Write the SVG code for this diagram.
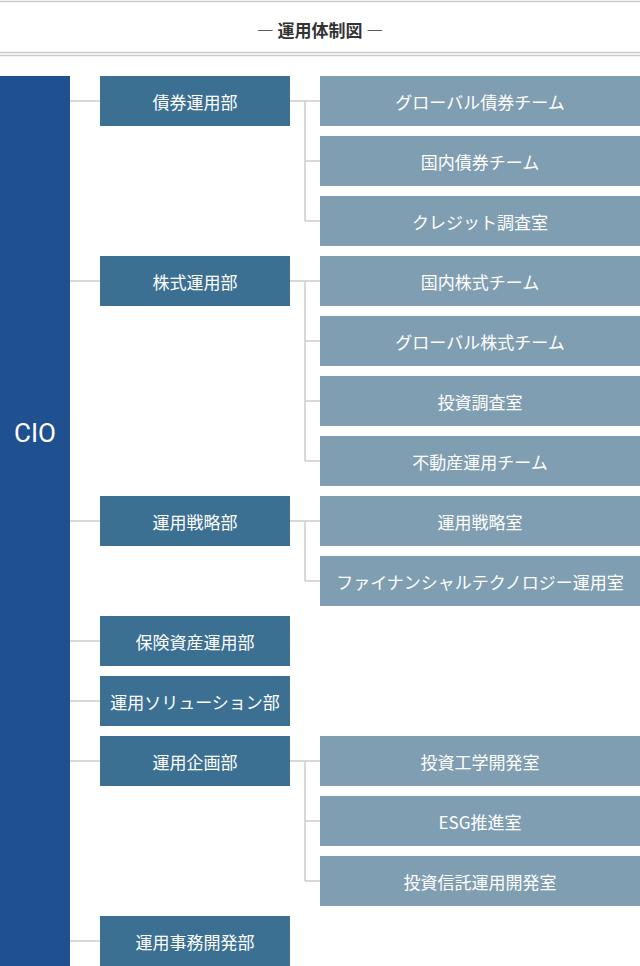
<svg xmlns="http://www.w3.org/2000/svg" width="640" height="966" viewBox="0 0 640 966">
<style>
text{font-family:"Noto Sans CJK JP","Noto Sans",sans-serif;fill:#fff;font-size:17px;text-anchor:middle;dominant-baseline:central}
.d{fill:#3b7092}.t{fill:#7f9eb1}.l{stroke:#cccccc;stroke-width:1.5;fill:none}
</style>
<rect width="640" height="966" fill="#fff"/>
<g id="header">
<line x1="0" y1="1.5" x2="640" y2="1.5" class="l"/><line x1="0" y1="52.5" x2="640" y2="52.5" class="l"/><line x1="0" y1="55.5" x2="640" y2="55.5" class="l"/>
<text x="320" y="29" style="fill:#333;font-weight:bold;font-size:17px">― 運用体制図 ―</text>
</g>
<g id="connectors" class="l">
<path d="M70 101H100M70 281H100M70 521H100M70 641H100M70 701H100M70 761H100M70 941H100"/>
<path d="M290 101H320M305 101V221M305 161H320M305 221H320"/>
<path d="M290 281H320M305 281V461M305 341H320M305 401H320M305 461H320"/>
<path d="M290 521H320M305 521V581M305 581H320"/>
<path d="M290 761H320M305 761V881M305 821H320M305 881H320"/>
</g>
<g id="cio"><rect x="0" y="76" width="70" height="890" fill="#1f5190"/><text x="35" y="433" style="font-size:26px;font-family:Roboto,sans-serif">CIO</text></g>
<g id="d1"><rect class="d" x="100" y="76" width="190" height="50"/><text x="195" y="101">債券運用部</text></g>
<g id="d2"><rect class="d" x="100" y="256" width="190" height="50"/><text x="195" y="281">株式運用部</text></g>
<g id="d3"><rect class="d" x="100" y="496" width="190" height="50"/><text x="195" y="521">運用戦略部</text></g>
<g id="d4"><rect class="d" x="100" y="616" width="190" height="50"/><text x="195" y="641">保険資産運用部</text></g>
<g id="d5"><rect class="d" x="100" y="676" width="190" height="50"/><text x="195" y="701">運用ソリューション部</text></g>
<g id="d6"><rect class="d" x="100" y="736" width="190" height="50"/><text x="195" y="761">運用企画部</text></g>
<g id="d7"><rect class="d" x="100" y="916" width="190" height="50"/><text x="195" y="941">運用事務開発部</text></g>
<g id="t1"><rect class="t" x="320" y="76" width="320" height="50"/><text x="480" y="101">グローバル債券チーム</text></g>
<g id="t2"><rect class="t" x="320" y="136" width="320" height="50"/><text x="480" y="161">国内債券チーム</text></g>
<g id="t3"><rect class="t" x="320" y="196" width="320" height="50"/><text x="480" y="221">クレジット調査室</text></g>
<g id="t4"><rect class="t" x="320" y="256" width="320" height="50"/><text x="480" y="281">国内株式チーム</text></g>
<g id="t5"><rect class="t" x="320" y="316" width="320" height="50"/><text x="480" y="341">グローバル株式チーム</text></g>
<g id="t6"><rect class="t" x="320" y="376" width="320" height="50"/><text x="480" y="401">投資調査室</text></g>
<g id="t7"><rect class="t" x="320" y="436" width="320" height="50"/><text x="480" y="461">不動産運用チーム</text></g>
<g id="t8"><rect class="t" x="320" y="496" width="320" height="50"/><text x="480" y="521">運用戦略室</text></g>
<g id="t9"><rect class="t" x="320" y="556" width="320" height="50"/><text x="480" y="581">ファイナンシャルテクノロジー運用室</text></g>
<g id="t10"><rect class="t" x="320" y="736" width="320" height="50"/><text x="480" y="761">投資工学開発室</text></g>
<g id="t11"><rect class="t" x="320" y="796" width="320" height="50"/><text x="480" y="821">ESG推進室</text></g>
<g id="t12"><rect class="t" x="320" y="856" width="320" height="50"/><text x="480" y="881">投資信託運用開発室</text></g>
</svg>
